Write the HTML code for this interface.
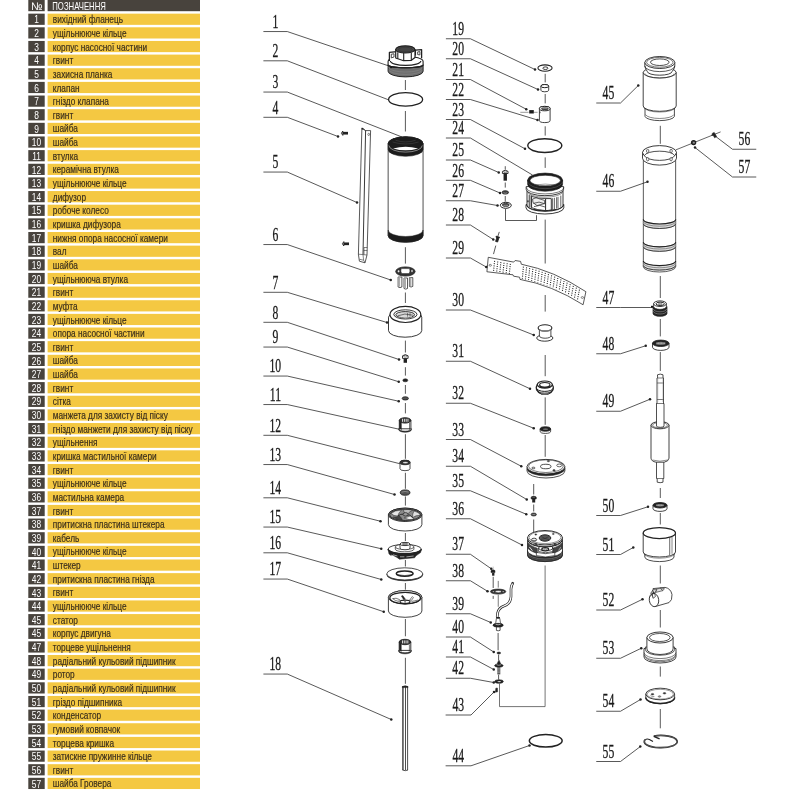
<!DOCTYPE html>
<html lang="uk"><head><meta charset="utf-8"><title>Схема насоса</title>
<style>html,body{margin:0;padding:0;background:#fff}svg{display:block;will-change:transform;opacity:0.9999}</style></head><body>
<svg width="800" height="800" viewBox="0 0 800 800">
<rect width="800" height="800" fill="#fff"/>
<g id="table" font-family="'Liberation Sans', sans-serif" font-size="10">
<rect x="28.3" y="0" width="16.4" height="11.2" fill="#48433d"/>
<rect x="47.6" y="0" width="152.4" height="11.2" fill="#48433d"/>
<text transform="translate(36.9,9.6) scale(1.0,1)" text-anchor="middle" fill="#fff" font-size="10.8">№</text>
<text transform="translate(52.3,9.5) scale(0.775,1)" fill="#fff">ПОЗНАЧЕННЯ</text>
<rect x="28.3" y="13.65" width="16.4" height="11.2" fill="#48433d"/>
<rect x="47.6" y="13.65" width="152.4" height="11.2" fill="#f4c842"/>
<text transform="translate(36.5,23.40) scale(0.8,1)" text-anchor="middle" fill="#fff" font-size="10.5">1</text>
<text transform="translate(52.8,23.30) scale(0.828,1)" fill="#3b2f1c" stroke="#3b2f1c" stroke-width="0.18">вихідний фланець</text>
<rect x="28.3" y="27.30" width="16.4" height="11.2" fill="#48433d"/>
<rect x="47.6" y="27.30" width="152.4" height="11.2" fill="#f4c842"/>
<text transform="translate(36.5,37.05) scale(0.8,1)" text-anchor="middle" fill="#fff" font-size="10.5">2</text>
<text transform="translate(52.8,36.95) scale(0.828,1)" fill="#3b2f1c" stroke="#3b2f1c" stroke-width="0.18">ущільнююче кільце</text>
<rect x="28.3" y="40.94" width="16.4" height="11.2" fill="#48433d"/>
<rect x="47.6" y="40.94" width="152.4" height="11.2" fill="#f4c842"/>
<text transform="translate(36.5,50.69) scale(0.8,1)" text-anchor="middle" fill="#fff" font-size="10.5">3</text>
<text transform="translate(52.8,50.59) scale(0.828,1)" fill="#3b2f1c" stroke="#3b2f1c" stroke-width="0.18">корпус насосної частини</text>
<rect x="28.3" y="54.59" width="16.4" height="11.2" fill="#48433d"/>
<rect x="47.6" y="54.59" width="152.4" height="11.2" fill="#f4c842"/>
<text transform="translate(36.5,64.34) scale(0.8,1)" text-anchor="middle" fill="#fff" font-size="10.5">4</text>
<text transform="translate(52.8,64.24) scale(0.828,1)" fill="#3b2f1c" stroke="#3b2f1c" stroke-width="0.18">гвинт</text>
<rect x="28.3" y="68.23" width="16.4" height="11.2" fill="#48433d"/>
<rect x="47.6" y="68.23" width="152.4" height="11.2" fill="#f4c842"/>
<text transform="translate(36.5,77.98) scale(0.8,1)" text-anchor="middle" fill="#fff" font-size="10.5">5</text>
<text transform="translate(52.8,77.88) scale(0.828,1)" fill="#3b2f1c" stroke="#3b2f1c" stroke-width="0.18">захисна планка</text>
<rect x="28.3" y="81.88" width="16.4" height="11.2" fill="#48433d"/>
<rect x="47.6" y="81.88" width="152.4" height="11.2" fill="#f4c842"/>
<text transform="translate(36.5,91.63) scale(0.8,1)" text-anchor="middle" fill="#fff" font-size="10.5">6</text>
<text transform="translate(52.8,91.53) scale(0.828,1)" fill="#3b2f1c" stroke="#3b2f1c" stroke-width="0.18">клапан</text>
<rect x="28.3" y="95.53" width="16.4" height="11.2" fill="#48433d"/>
<rect x="47.6" y="95.53" width="152.4" height="11.2" fill="#f4c842"/>
<text transform="translate(36.5,105.28) scale(0.8,1)" text-anchor="middle" fill="#fff" font-size="10.5">7</text>
<text transform="translate(52.8,105.18) scale(0.828,1)" fill="#3b2f1c" stroke="#3b2f1c" stroke-width="0.18">гніздо клапана</text>
<rect x="28.3" y="109.17" width="16.4" height="11.2" fill="#48433d"/>
<rect x="47.6" y="109.17" width="152.4" height="11.2" fill="#f4c842"/>
<text transform="translate(36.5,118.92) scale(0.8,1)" text-anchor="middle" fill="#fff" font-size="10.5">8</text>
<text transform="translate(52.8,118.82) scale(0.828,1)" fill="#3b2f1c" stroke="#3b2f1c" stroke-width="0.18">гвинт</text>
<rect x="28.3" y="122.82" width="16.4" height="11.2" fill="#48433d"/>
<rect x="47.6" y="122.82" width="152.4" height="11.2" fill="#f4c842"/>
<text transform="translate(36.5,132.57) scale(0.8,1)" text-anchor="middle" fill="#fff" font-size="10.5">9</text>
<text transform="translate(52.8,132.47) scale(0.828,1)" fill="#3b2f1c" stroke="#3b2f1c" stroke-width="0.18">шайба</text>
<rect x="28.3" y="136.46" width="16.4" height="11.2" fill="#48433d"/>
<rect x="47.6" y="136.46" width="152.4" height="11.2" fill="#f4c842"/>
<text transform="translate(36.5,146.21) scale(0.8,1)" text-anchor="middle" fill="#fff" font-size="10.5">10</text>
<text transform="translate(52.8,146.11) scale(0.828,1)" fill="#3b2f1c" stroke="#3b2f1c" stroke-width="0.18">шайба</text>
<rect x="28.3" y="150.11" width="16.4" height="11.2" fill="#48433d"/>
<rect x="47.6" y="150.11" width="152.4" height="11.2" fill="#f4c842"/>
<text transform="translate(36.5,159.86) scale(0.8,1)" text-anchor="middle" fill="#fff" font-size="10.5">11</text>
<text transform="translate(52.8,159.76) scale(0.828,1)" fill="#3b2f1c" stroke="#3b2f1c" stroke-width="0.18">втулка</text>
<rect x="28.3" y="163.76" width="16.4" height="11.2" fill="#48433d"/>
<rect x="47.6" y="163.76" width="152.4" height="11.2" fill="#f4c842"/>
<text transform="translate(36.5,173.51) scale(0.8,1)" text-anchor="middle" fill="#fff" font-size="10.5">12</text>
<text transform="translate(52.8,173.41) scale(0.828,1)" fill="#3b2f1c" stroke="#3b2f1c" stroke-width="0.18">керамічна втулка</text>
<rect x="28.3" y="177.40" width="16.4" height="11.2" fill="#48433d"/>
<rect x="47.6" y="177.40" width="152.4" height="11.2" fill="#f4c842"/>
<text transform="translate(36.5,187.15) scale(0.8,1)" text-anchor="middle" fill="#fff" font-size="10.5">13</text>
<text transform="translate(52.8,187.05) scale(0.828,1)" fill="#3b2f1c" stroke="#3b2f1c" stroke-width="0.18">ущільнююче кільце</text>
<rect x="28.3" y="191.05" width="16.4" height="11.2" fill="#48433d"/>
<rect x="47.6" y="191.05" width="152.4" height="11.2" fill="#f4c842"/>
<text transform="translate(36.5,200.80) scale(0.8,1)" text-anchor="middle" fill="#fff" font-size="10.5">14</text>
<text transform="translate(52.8,200.70) scale(0.828,1)" fill="#3b2f1c" stroke="#3b2f1c" stroke-width="0.18">дифузор</text>
<rect x="28.3" y="204.69" width="16.4" height="11.2" fill="#48433d"/>
<rect x="47.6" y="204.69" width="152.4" height="11.2" fill="#f4c842"/>
<text transform="translate(36.5,214.44) scale(0.8,1)" text-anchor="middle" fill="#fff" font-size="10.5">15</text>
<text transform="translate(52.8,214.34) scale(0.828,1)" fill="#3b2f1c" stroke="#3b2f1c" stroke-width="0.18">робоче колесо</text>
<rect x="28.3" y="218.34" width="16.4" height="11.2" fill="#48433d"/>
<rect x="47.6" y="218.34" width="152.4" height="11.2" fill="#f4c842"/>
<text transform="translate(36.5,228.09) scale(0.8,1)" text-anchor="middle" fill="#fff" font-size="10.5">16</text>
<text transform="translate(52.8,227.99) scale(0.828,1)" fill="#3b2f1c" stroke="#3b2f1c" stroke-width="0.18">кришка дифузора</text>
<rect x="28.3" y="231.99" width="16.4" height="11.2" fill="#48433d"/>
<rect x="47.6" y="231.99" width="152.4" height="11.2" fill="#f4c842"/>
<text transform="translate(36.5,241.74) scale(0.8,1)" text-anchor="middle" fill="#fff" font-size="10.5">17</text>
<text transform="translate(52.8,241.64) scale(0.828,1)" fill="#3b2f1c" stroke="#3b2f1c" stroke-width="0.18">нижня опора насосної камери</text>
<rect x="28.3" y="245.63" width="16.4" height="11.2" fill="#48433d"/>
<rect x="47.6" y="245.63" width="152.4" height="11.2" fill="#f4c842"/>
<text transform="translate(36.5,255.38) scale(0.8,1)" text-anchor="middle" fill="#fff" font-size="10.5">18</text>
<text transform="translate(52.8,255.28) scale(0.828,1)" fill="#3b2f1c" stroke="#3b2f1c" stroke-width="0.18">вал</text>
<rect x="28.3" y="259.28" width="16.4" height="11.2" fill="#48433d"/>
<rect x="47.6" y="259.28" width="152.4" height="11.2" fill="#f4c842"/>
<text transform="translate(36.5,269.03) scale(0.8,1)" text-anchor="middle" fill="#fff" font-size="10.5">19</text>
<text transform="translate(52.8,268.93) scale(0.828,1)" fill="#3b2f1c" stroke="#3b2f1c" stroke-width="0.18">шайба</text>
<rect x="28.3" y="272.92" width="16.4" height="11.2" fill="#48433d"/>
<rect x="47.6" y="272.92" width="152.4" height="11.2" fill="#f4c842"/>
<text transform="translate(36.5,282.67) scale(0.8,1)" text-anchor="middle" fill="#fff" font-size="10.5">20</text>
<text transform="translate(52.8,282.57) scale(0.828,1)" fill="#3b2f1c" stroke="#3b2f1c" stroke-width="0.18">ущільнююча втулка</text>
<rect x="28.3" y="286.57" width="16.4" height="11.2" fill="#48433d"/>
<rect x="47.6" y="286.57" width="152.4" height="11.2" fill="#f4c842"/>
<text transform="translate(36.5,296.32) scale(0.8,1)" text-anchor="middle" fill="#fff" font-size="10.5">21</text>
<text transform="translate(52.8,296.22) scale(0.828,1)" fill="#3b2f1c" stroke="#3b2f1c" stroke-width="0.18">гвинт</text>
<rect x="28.3" y="300.22" width="16.4" height="11.2" fill="#48433d"/>
<rect x="47.6" y="300.22" width="152.4" height="11.2" fill="#f4c842"/>
<text transform="translate(36.5,309.97) scale(0.8,1)" text-anchor="middle" fill="#fff" font-size="10.5">22</text>
<text transform="translate(52.8,309.87) scale(0.828,1)" fill="#3b2f1c" stroke="#3b2f1c" stroke-width="0.18">муфта</text>
<rect x="28.3" y="313.86" width="16.4" height="11.2" fill="#48433d"/>
<rect x="47.6" y="313.86" width="152.4" height="11.2" fill="#f4c842"/>
<text transform="translate(36.5,323.61) scale(0.8,1)" text-anchor="middle" fill="#fff" font-size="10.5">23</text>
<text transform="translate(52.8,323.51) scale(0.828,1)" fill="#3b2f1c" stroke="#3b2f1c" stroke-width="0.18">ущільнююче кільце</text>
<rect x="28.3" y="327.51" width="16.4" height="11.2" fill="#48433d"/>
<rect x="47.6" y="327.51" width="152.4" height="11.2" fill="#f4c842"/>
<text transform="translate(36.5,337.26) scale(0.8,1)" text-anchor="middle" fill="#fff" font-size="10.5">24</text>
<text transform="translate(52.8,337.16) scale(0.828,1)" fill="#3b2f1c" stroke="#3b2f1c" stroke-width="0.18">опора насосної частини</text>
<rect x="28.3" y="341.15" width="16.4" height="11.2" fill="#48433d"/>
<rect x="47.6" y="341.15" width="152.4" height="11.2" fill="#f4c842"/>
<text transform="translate(36.5,350.90) scale(0.8,1)" text-anchor="middle" fill="#fff" font-size="10.5">25</text>
<text transform="translate(52.8,350.80) scale(0.828,1)" fill="#3b2f1c" stroke="#3b2f1c" stroke-width="0.18">гвинт</text>
<rect x="28.3" y="354.80" width="16.4" height="11.2" fill="#48433d"/>
<rect x="47.6" y="354.80" width="152.4" height="11.2" fill="#f4c842"/>
<text transform="translate(36.5,364.55) scale(0.8,1)" text-anchor="middle" fill="#fff" font-size="10.5">26</text>
<text transform="translate(52.8,364.45) scale(0.828,1)" fill="#3b2f1c" stroke="#3b2f1c" stroke-width="0.18">шайба</text>
<rect x="28.3" y="368.45" width="16.4" height="11.2" fill="#48433d"/>
<rect x="47.6" y="368.45" width="152.4" height="11.2" fill="#f4c842"/>
<text transform="translate(36.5,378.20) scale(0.8,1)" text-anchor="middle" fill="#fff" font-size="10.5">27</text>
<text transform="translate(52.8,378.10) scale(0.828,1)" fill="#3b2f1c" stroke="#3b2f1c" stroke-width="0.18">шайба</text>
<rect x="28.3" y="382.09" width="16.4" height="11.2" fill="#48433d"/>
<rect x="47.6" y="382.09" width="152.4" height="11.2" fill="#f4c842"/>
<text transform="translate(36.5,391.84) scale(0.8,1)" text-anchor="middle" fill="#fff" font-size="10.5">28</text>
<text transform="translate(52.8,391.74) scale(0.828,1)" fill="#3b2f1c" stroke="#3b2f1c" stroke-width="0.18">гвинт</text>
<rect x="28.3" y="395.74" width="16.4" height="11.2" fill="#48433d"/>
<rect x="47.6" y="395.74" width="152.4" height="11.2" fill="#f4c842"/>
<text transform="translate(36.5,405.49) scale(0.8,1)" text-anchor="middle" fill="#fff" font-size="10.5">29</text>
<text transform="translate(52.8,405.39) scale(0.828,1)" fill="#3b2f1c" stroke="#3b2f1c" stroke-width="0.18">сітка</text>
<rect x="28.3" y="409.38" width="16.4" height="11.2" fill="#48433d"/>
<rect x="47.6" y="409.38" width="152.4" height="11.2" fill="#f4c842"/>
<text transform="translate(36.5,419.13) scale(0.8,1)" text-anchor="middle" fill="#fff" font-size="10.5">30</text>
<text transform="translate(52.8,419.03) scale(0.828,1)" fill="#3b2f1c" stroke="#3b2f1c" stroke-width="0.18">манжета для захисту від піску</text>
<rect x="28.3" y="423.03" width="16.4" height="11.2" fill="#48433d"/>
<rect x="47.6" y="423.03" width="152.4" height="11.2" fill="#f4c842"/>
<text transform="translate(36.5,432.78) scale(0.8,1)" text-anchor="middle" fill="#fff" font-size="10.5">31</text>
<text transform="translate(52.8,432.68) scale(0.828,1)" fill="#3b2f1c" stroke="#3b2f1c" stroke-width="0.18">гніздо манжети для захисту від піску</text>
<rect x="28.3" y="436.68" width="16.4" height="11.2" fill="#48433d"/>
<rect x="47.6" y="436.68" width="152.4" height="11.2" fill="#f4c842"/>
<text transform="translate(36.5,446.43) scale(0.8,1)" text-anchor="middle" fill="#fff" font-size="10.5">32</text>
<text transform="translate(52.8,446.33) scale(0.828,1)" fill="#3b2f1c" stroke="#3b2f1c" stroke-width="0.18">ущільнення</text>
<rect x="28.3" y="450.32" width="16.4" height="11.2" fill="#48433d"/>
<rect x="47.6" y="450.32" width="152.4" height="11.2" fill="#f4c842"/>
<text transform="translate(36.5,460.07) scale(0.8,1)" text-anchor="middle" fill="#fff" font-size="10.5">33</text>
<text transform="translate(52.8,459.97) scale(0.828,1)" fill="#3b2f1c" stroke="#3b2f1c" stroke-width="0.18">кришка мастильної камери</text>
<rect x="28.3" y="463.97" width="16.4" height="11.2" fill="#48433d"/>
<rect x="47.6" y="463.97" width="152.4" height="11.2" fill="#f4c842"/>
<text transform="translate(36.5,473.72) scale(0.8,1)" text-anchor="middle" fill="#fff" font-size="10.5">34</text>
<text transform="translate(52.8,473.62) scale(0.828,1)" fill="#3b2f1c" stroke="#3b2f1c" stroke-width="0.18">гвинт</text>
<rect x="28.3" y="477.61" width="16.4" height="11.2" fill="#48433d"/>
<rect x="47.6" y="477.61" width="152.4" height="11.2" fill="#f4c842"/>
<text transform="translate(36.5,487.36) scale(0.8,1)" text-anchor="middle" fill="#fff" font-size="10.5">35</text>
<text transform="translate(52.8,487.26) scale(0.828,1)" fill="#3b2f1c" stroke="#3b2f1c" stroke-width="0.18">ущільнююче кільце</text>
<rect x="28.3" y="491.26" width="16.4" height="11.2" fill="#48433d"/>
<rect x="47.6" y="491.26" width="152.4" height="11.2" fill="#f4c842"/>
<text transform="translate(36.5,501.01) scale(0.8,1)" text-anchor="middle" fill="#fff" font-size="10.5">36</text>
<text transform="translate(52.8,500.91) scale(0.828,1)" fill="#3b2f1c" stroke="#3b2f1c" stroke-width="0.18">мастильна камера</text>
<rect x="28.3" y="504.91" width="16.4" height="11.2" fill="#48433d"/>
<rect x="47.6" y="504.91" width="152.4" height="11.2" fill="#f4c842"/>
<text transform="translate(36.5,514.66) scale(0.8,1)" text-anchor="middle" fill="#fff" font-size="10.5">37</text>
<text transform="translate(52.8,514.56) scale(0.828,1)" fill="#3b2f1c" stroke="#3b2f1c" stroke-width="0.18">гвинт</text>
<rect x="28.3" y="518.55" width="16.4" height="11.2" fill="#48433d"/>
<rect x="47.6" y="518.55" width="152.4" height="11.2" fill="#f4c842"/>
<text transform="translate(36.5,528.30) scale(0.8,1)" text-anchor="middle" fill="#fff" font-size="10.5">38</text>
<text transform="translate(52.8,528.20) scale(0.828,1)" fill="#3b2f1c" stroke="#3b2f1c" stroke-width="0.18">притискна пластина штекера</text>
<rect x="28.3" y="532.20" width="16.4" height="11.2" fill="#48433d"/>
<rect x="47.6" y="532.20" width="152.4" height="11.2" fill="#f4c842"/>
<text transform="translate(36.5,541.95) scale(0.8,1)" text-anchor="middle" fill="#fff" font-size="10.5">39</text>
<text transform="translate(52.8,541.85) scale(0.828,1)" fill="#3b2f1c" stroke="#3b2f1c" stroke-width="0.18">кабель</text>
<rect x="28.3" y="545.84" width="16.4" height="11.2" fill="#48433d"/>
<rect x="47.6" y="545.84" width="152.4" height="11.2" fill="#f4c842"/>
<text transform="translate(36.5,555.59) scale(0.8,1)" text-anchor="middle" fill="#fff" font-size="10.5">40</text>
<text transform="translate(52.8,555.49) scale(0.828,1)" fill="#3b2f1c" stroke="#3b2f1c" stroke-width="0.18">ущільнююче кільце</text>
<rect x="28.3" y="559.49" width="16.4" height="11.2" fill="#48433d"/>
<rect x="47.6" y="559.49" width="152.4" height="11.2" fill="#f4c842"/>
<text transform="translate(36.5,569.24) scale(0.8,1)" text-anchor="middle" fill="#fff" font-size="10.5">41</text>
<text transform="translate(52.8,569.14) scale(0.828,1)" fill="#3b2f1c" stroke="#3b2f1c" stroke-width="0.18">штекер</text>
<rect x="28.3" y="573.14" width="16.4" height="11.2" fill="#48433d"/>
<rect x="47.6" y="573.14" width="152.4" height="11.2" fill="#f4c842"/>
<text transform="translate(36.5,582.89) scale(0.8,1)" text-anchor="middle" fill="#fff" font-size="10.5">42</text>
<text transform="translate(52.8,582.79) scale(0.828,1)" fill="#3b2f1c" stroke="#3b2f1c" stroke-width="0.18">притискна пластина гнізда</text>
<rect x="28.3" y="586.78" width="16.4" height="11.2" fill="#48433d"/>
<rect x="47.6" y="586.78" width="152.4" height="11.2" fill="#f4c842"/>
<text transform="translate(36.5,596.53) scale(0.8,1)" text-anchor="middle" fill="#fff" font-size="10.5">43</text>
<text transform="translate(52.8,596.43) scale(0.828,1)" fill="#3b2f1c" stroke="#3b2f1c" stroke-width="0.18">гвинт</text>
<rect x="28.3" y="600.43" width="16.4" height="11.2" fill="#48433d"/>
<rect x="47.6" y="600.43" width="152.4" height="11.2" fill="#f4c842"/>
<text transform="translate(36.5,610.18) scale(0.8,1)" text-anchor="middle" fill="#fff" font-size="10.5">44</text>
<text transform="translate(52.8,610.08) scale(0.828,1)" fill="#3b2f1c" stroke="#3b2f1c" stroke-width="0.18">ущільнююче кільце</text>
<rect x="28.3" y="614.07" width="16.4" height="11.2" fill="#48433d"/>
<rect x="47.6" y="614.07" width="152.4" height="11.2" fill="#f4c842"/>
<text transform="translate(36.5,623.82) scale(0.8,1)" text-anchor="middle" fill="#fff" font-size="10.5">45</text>
<text transform="translate(52.8,623.72) scale(0.828,1)" fill="#3b2f1c" stroke="#3b2f1c" stroke-width="0.18">статор</text>
<rect x="28.3" y="627.72" width="16.4" height="11.2" fill="#48433d"/>
<rect x="47.6" y="627.72" width="152.4" height="11.2" fill="#f4c842"/>
<text transform="translate(36.5,637.47) scale(0.8,1)" text-anchor="middle" fill="#fff" font-size="10.5">45</text>
<text transform="translate(52.8,637.37) scale(0.828,1)" fill="#3b2f1c" stroke="#3b2f1c" stroke-width="0.18">корпус двигуна</text>
<rect x="28.3" y="641.37" width="16.4" height="11.2" fill="#48433d"/>
<rect x="47.6" y="641.37" width="152.4" height="11.2" fill="#f4c842"/>
<text transform="translate(36.5,651.12) scale(0.8,1)" text-anchor="middle" fill="#fff" font-size="10.5">47</text>
<text transform="translate(52.8,651.02) scale(0.828,1)" fill="#3b2f1c" stroke="#3b2f1c" stroke-width="0.18">торцеве ущільнення</text>
<rect x="28.3" y="655.01" width="16.4" height="11.2" fill="#48433d"/>
<rect x="47.6" y="655.01" width="152.4" height="11.2" fill="#f4c842"/>
<text transform="translate(36.5,664.76) scale(0.8,1)" text-anchor="middle" fill="#fff" font-size="10.5">48</text>
<text transform="translate(52.8,664.66) scale(0.828,1)" fill="#3b2f1c" stroke="#3b2f1c" stroke-width="0.18">радіальний кульовий підшипник</text>
<rect x="28.3" y="668.66" width="16.4" height="11.2" fill="#48433d"/>
<rect x="47.6" y="668.66" width="152.4" height="11.2" fill="#f4c842"/>
<text transform="translate(36.5,678.41) scale(0.8,1)" text-anchor="middle" fill="#fff" font-size="10.5">49</text>
<text transform="translate(52.8,678.31) scale(0.828,1)" fill="#3b2f1c" stroke="#3b2f1c" stroke-width="0.18">ротор</text>
<rect x="28.3" y="682.30" width="16.4" height="11.2" fill="#48433d"/>
<rect x="47.6" y="682.30" width="152.4" height="11.2" fill="#f4c842"/>
<text transform="translate(36.5,692.05) scale(0.8,1)" text-anchor="middle" fill="#fff" font-size="10.5">50</text>
<text transform="translate(52.8,691.95) scale(0.828,1)" fill="#3b2f1c" stroke="#3b2f1c" stroke-width="0.18">радіальний кульовий підшипник</text>
<rect x="28.3" y="695.95" width="16.4" height="11.2" fill="#48433d"/>
<rect x="47.6" y="695.95" width="152.4" height="11.2" fill="#f4c842"/>
<text transform="translate(36.5,705.70) scale(0.8,1)" text-anchor="middle" fill="#fff" font-size="10.5">51</text>
<text transform="translate(52.8,705.60) scale(0.828,1)" fill="#3b2f1c" stroke="#3b2f1c" stroke-width="0.18">гріздо підшипника</text>
<rect x="28.3" y="709.60" width="16.4" height="11.2" fill="#48433d"/>
<rect x="47.6" y="709.60" width="152.4" height="11.2" fill="#f4c842"/>
<text transform="translate(36.5,719.35) scale(0.8,1)" text-anchor="middle" fill="#fff" font-size="10.5">52</text>
<text transform="translate(52.8,719.25) scale(0.828,1)" fill="#3b2f1c" stroke="#3b2f1c" stroke-width="0.18">конденсатор</text>
<rect x="28.3" y="723.24" width="16.4" height="11.2" fill="#48433d"/>
<rect x="47.6" y="723.24" width="152.4" height="11.2" fill="#f4c842"/>
<text transform="translate(36.5,732.99) scale(0.8,1)" text-anchor="middle" fill="#fff" font-size="10.5">53</text>
<text transform="translate(52.8,732.89) scale(0.828,1)" fill="#3b2f1c" stroke="#3b2f1c" stroke-width="0.18">гумовий ковпачок</text>
<rect x="28.3" y="736.89" width="16.4" height="11.2" fill="#48433d"/>
<rect x="47.6" y="736.89" width="152.4" height="11.2" fill="#f4c842"/>
<text transform="translate(36.5,746.64) scale(0.8,1)" text-anchor="middle" fill="#fff" font-size="10.5">54</text>
<text transform="translate(52.8,746.54) scale(0.828,1)" fill="#3b2f1c" stroke="#3b2f1c" stroke-width="0.18">торцева кришка</text>
<rect x="28.3" y="750.53" width="16.4" height="11.2" fill="#48433d"/>
<rect x="47.6" y="750.53" width="152.4" height="11.2" fill="#f4c842"/>
<text transform="translate(36.5,760.28) scale(0.8,1)" text-anchor="middle" fill="#fff" font-size="10.5">55</text>
<text transform="translate(52.8,760.18) scale(0.828,1)" fill="#3b2f1c" stroke="#3b2f1c" stroke-width="0.18">затискне пружинне кільце</text>
<rect x="28.3" y="764.18" width="16.4" height="11.2" fill="#48433d"/>
<rect x="47.6" y="764.18" width="152.4" height="11.2" fill="#f4c842"/>
<text transform="translate(36.5,773.93) scale(0.8,1)" text-anchor="middle" fill="#fff" font-size="10.5">56</text>
<text transform="translate(52.8,773.83) scale(0.828,1)" fill="#3b2f1c" stroke="#3b2f1c" stroke-width="0.18">гвинт</text>
<rect x="28.3" y="777.83" width="16.4" height="11.2" fill="#48433d"/>
<rect x="47.6" y="777.83" width="152.4" height="11.2" fill="#f4c842"/>
<text transform="translate(36.5,787.58) scale(0.8,1)" text-anchor="middle" fill="#fff" font-size="10.5">57</text>
<text transform="translate(52.8,787.48) scale(0.828,1)" fill="#3b2f1c" stroke="#3b2f1c" stroke-width="0.18">шайба Гровера</text>
</g>
<g id="parts" stroke-linecap="butt" stroke-linejoin="round">
<path d="M388.1 64.7V71.3A17.5 5.6 0 0 0 423.1 71.3V64.7A17.5 3.0 0 0 1 388.1 64.7Z" fill="#6e6e6e" stroke="#222" stroke-width="1.0" />
<path d="M388.4 67.4A17.3 5.2 0 0 0 422.8 67.4M388.4 69.6A17.3 5.4 0 0 0 422.8 69.6" fill="none" stroke="#909090" stroke-width="0.45" />
<path d="M388.1 64.7V61.4A17.5 5.2 0 0 1 423.1 61.4V64.7A17.5 3.0 0 0 1 388.1 64.7Z" fill="#fff" stroke="#222" stroke-width="1.1" />
<path d="M388.1 64.7A17.5 3.0 0 0 0 423.1 64.7" fill="none" stroke="#222" stroke-width="1.2" />
<path d="M390.4 61.0A15.2 4.4 0 0 0 420.8 61.0" fill="none" stroke="#222" stroke-width="1.2" />
<path d="M389.4 61.0V52.4L396.9 51.6V58.6" fill="#fff" stroke="#222" stroke-width="1.3" />
<path d="M391.3 57.9V54.2l2.7-0.4v3.2z" fill="none" stroke="#222" stroke-width="0.8" />
<path d="M415.4 55.6V50.2L421.6 49.6V58.2" fill="#fff" stroke="#222" stroke-width="1.3" />
<path d="M417.7 54.6V51.9l2.2-0.3v3.3z" fill="none" stroke="#222" stroke-width="0.8" />
<path d="M395.7 49.6V58.0L403.6 60.7L411.4 60.3L415.0 57.6V49.6Z" fill="#fff" stroke="#222" stroke-width="1.2" />
<path d="M397.8 52.2V58.7M403.7 52.9V60.6M411.3 52.7V60.2" fill="none" stroke="#222" stroke-width="1.1" />
<ellipse cx="405.30" cy="49.40" rx="9.60" ry="3.60" fill="#4c4c4c" stroke="#222" stroke-width="1.2" />
<ellipse cx="405.30" cy="49.60" rx="7.20" ry="2.40" fill="#444" stroke="#2a2a2a" stroke-width="0.5" />
<rect x="390.20" y="66.60" width="1.70" height="1.50" fill="#111" stroke="none" stroke-width="0"/>
<ellipse cx="405.60" cy="99.40" rx="17.00" ry="6.70" fill="none" stroke="#222" stroke-width="1.3" />
<path d="M388.15 143.75V235.60A17.45 6.60 0 0 0 423.05 235.60V143.75A17.45 6.90 0 0 0 388.15 143.75Z" fill="#fff" stroke="#222" stroke-width="0.8" />
<path d="M388.15 230.00A17.45 6.50 0 0 0 423.05 230.00V235.80A17.45 6.50 0 0 1 388.15 235.80Z" fill="#1c1c1c" stroke="#222" stroke-width="0.5" />
<path d="M388.15000000000003 143.75V149.4A17.45 6.9 0 0 0 423.05 149.4V143.75A17.45 6.9 0 0 0 388.15000000000003 143.75Z" fill="#1c1c1c" stroke="#222" stroke-width="0.6" />
<ellipse cx="405.60" cy="143.75" rx="17.45" ry="6.90" fill="#1c1c1c" stroke="#222" stroke-width="0.6" />
<path d="M393.1 148.4Q405.6 144.9 418.1 148.4Q405.6 152.2 393.1 148.4Z" fill="#fff" stroke="none" stroke-width="0" />
<path d="M388.95000000000005 145.5A16.65 6.6 0 0 0 422.25 145.5" fill="none" stroke="#e8e8e8" stroke-width="0.5" />
<path d="M392.6 142.0Q405.6 146.0 418.6 142.0M395.6 140.3Q405.6 143.6 415.6 140.3" fill="none" stroke="#555" stroke-width="0.4" />
<path d="M342.80 131.00Q340.00 133.20 342.80 135.40Z" fill="#fff" stroke="#222" stroke-width="0.9" />
<rect x="343.00" y="131.85" width="5.00" height="2.70" fill="#222" stroke="none" stroke-width="0"/>
<path d="M343.80 241.60Q341.00 243.80 343.80 246.00Z" fill="#fff" stroke="#222" stroke-width="0.9" />
<rect x="344.00" y="242.45" width="5.00" height="2.70" fill="#222" stroke="none" stroke-width="0"/>
<path d="M361.9 128.1L358.4 254.2L359.4 261.2L365 262.8L367 255L370.6 130.6L365.6 130.6Z" fill="#fff" stroke="#222" stroke-width="0.75" />
<path d="M365.6 130.6L363 254.4" fill="none" stroke="#222" stroke-width="0.9" />
<path d="M361.9 128.1L365.6 130.6" fill="none" stroke="#222" stroke-width="0.6" />
<path d="M358.4 254.2L363 254.6L367 255M363 254.6L363.6 260.2L359.6 259.3M363.6 260.2L365 262.6" fill="none" stroke="#222" stroke-width="0.55" />
<path d="M363.9 247.5H367.3M363.7 250.5H367.2M364 247.5V254.6" fill="none" stroke="#222" stroke-width="0.55" />
<ellipse cx="368.70" cy="134.40" rx="0.90" ry="1.10" fill="none" stroke="#222" stroke-width="0.55" />
<circle cx="362.5" cy="128.8" r="0.95" fill="#222"/>
<path d="M398.1 277.0V287.0Q400.0 288.2 401.9 287.0V277.0Z" fill="#fff" stroke="#222" stroke-width="0.75" />
<rect x="398.40" y="277.00" width="1.70" height="9.60" fill="#aaa" stroke="none" stroke-width="0"/>
<path d="M404.0 278.0V288.5Q405.75 289.7 407.5 288.5V278.0Z" fill="#fff" stroke="#222" stroke-width="0.75" />
<rect x="404.30" y="278.00" width="1.70" height="10.10" fill="#aaa" stroke="none" stroke-width="0"/>
<path d="M409.4 277.6V286.4Q411.1 287.59999999999997 412.8 286.4V277.6Z" fill="#fff" stroke="#222" stroke-width="0.75" />
<rect x="409.70" y="277.60" width="1.70" height="8.40" fill="#aaa" stroke="none" stroke-width="0"/>
<ellipse cx="405.40" cy="271.50" rx="9.70" ry="4.60" fill="#333" stroke="#222" stroke-width="0.8" />
<path d="M401.2 268.6H409.6Q410.6 271.2 409.2 273.6H401.6Q400.2 271.2 401.2 268.6Z" fill="#fff" stroke="#222" stroke-width="0.5" />
<ellipse cx="398.60" cy="271.30" rx="0.90" ry="1.30" fill="#fff" stroke="#222" stroke-width="0.3" />
<ellipse cx="412.00" cy="271.00" rx="0.90" ry="1.30" fill="#fff" stroke="#222" stroke-width="0.3" />
<path d="M388.5 317.2V330.6A16.6 6.6 0 0 0 421.75 330.6V317.2L420.6 314.4H390.1Z" fill="#fff" stroke="#222" stroke-width="0.9" />
<ellipse cx="405.40" cy="314.40" rx="15.40" ry="8.10" fill="#fff" stroke="#222" stroke-width="1.15" />
<ellipse cx="405.40" cy="314.40" rx="11.60" ry="4.60" fill="#fff" stroke="#222" stroke-width="0.9" />
<ellipse cx="405.20" cy="314.70" rx="9.40" ry="3.10" fill="#d8d8d8" stroke="#222" stroke-width="0.9" />
<path d="M397.9 315.8Q404.4 312.6 412.9 315.2" fill="none" stroke="#222" stroke-width="0.6" />
<path d="M407.59999999999997 313.0V316.8M410.0 313.2V316.6" fill="none" stroke="#222" stroke-width="0.55" />
<path d="M398.9 316.6Q405.4 318.6 411.9 316.6" fill="none" stroke="#fff" stroke-width="0.5" />
<path d="M402.50 358.40V355.80Q405.30 353.40 408.10 355.80V358.40Z" fill="#fff" stroke="#222" stroke-width="0.9" />
<ellipse cx="405.30" cy="356.20" rx="1.90" ry="0.80" fill="none" stroke="#222" stroke-width="0.5" />
<rect x="403.60" y="358.40" width="3.40" height="4.40" fill="#222" stroke="none" stroke-width="0"/>
<ellipse cx="405.30" cy="380.30" rx="2.50" ry="1.50" fill="#222" stroke="#222" stroke-width="0.6" />
<ellipse cx="405.30" cy="398.40" rx="3.10" ry="1.60" fill="#555" stroke="#222" stroke-width="0.9" />
<path d="M399.3 420.4V428.79999999999995H410.90000000000003V420.4Z" fill="#fff" stroke="#222" stroke-width="0.9" />
<rect x="399.30" y="420.40" width="2.00" height="8.60" fill="#222" stroke="none" stroke-width="0"/>
<path d="M398.7 428.59999999999997A6.3999999999999995 2.6 0 0 0 411.50000000000006 428.59999999999997V429.59999999999997A6.3999999999999995 2.6 0 0 1 398.7 429.59999999999997Z" fill="#222" stroke="#222" stroke-width="0.6" />
<path d="M401.3 423.0V430.0M409.50000000000006 422.79999999999995V429.79999999999995" fill="none" stroke="#222" stroke-width="0.6" />
<ellipse cx="405.10" cy="420.40" rx="5.80" ry="2.70" fill="#333" stroke="#222" stroke-width="0.9" />
<rect x="402.10" y="418.80" width="0.90" height="3.00" fill="#eee" stroke="none" stroke-width="0"/>
<rect x="403.90" y="418.80" width="0.90" height="3.00" fill="#eee" stroke="none" stroke-width="0"/>
<rect x="405.70" y="418.80" width="0.90" height="3.00" fill="#eee" stroke="none" stroke-width="0"/>
<rect x="407.50" y="418.80" width="0.90" height="3.00" fill="#eee" stroke="none" stroke-width="0"/>
<path d="M400.00 462.50V468.70A5.00 2.00 0 0 0 410.00 468.70V462.50A5.00 2.20 0 0 0 400.00 462.50Z" fill="#fff" stroke="#222" stroke-width="0.8" />
<ellipse cx="405.00" cy="462.50" rx="5.00" ry="2.20" fill="#333" stroke="#222" stroke-width="0.9" />
<ellipse cx="405.40" cy="462.60" rx="2.60" ry="0.90" fill="#eee" stroke="#222" stroke-width="0.3" />
<ellipse cx="405.10" cy="492.60" rx="4.85" ry="2.65" fill="#555" stroke="#222" stroke-width="0.9" />
<path d="M401.6 492.2Q405 490.6 408.6 492.2" fill="none" stroke="#bbb" stroke-width="0.5" />
<path d="M388.40 514.80V524.60A16.75 6.40 0 0 0 421.90 524.60V514.80A16.75 6.70 0 0 0 388.40 514.80Z" fill="#fff" stroke="#222" stroke-width="0.85" />
<ellipse cx="405.15" cy="514.80" rx="16.75" ry="6.70" fill="#8a8a8a" stroke="#222" stroke-width="0.9" />
<path d="M391.0 513.6Q395 510.0 401.4 510.2Q398.4 512.8 397.8 516.0Q393.6 516.2 391.0 513.6Z" fill="#e6e6e6" stroke="#222" stroke-width="0.5" />
<path d="M403.0 509.8Q408 508.8 412.6 510.2Q408.6 512.0 407.0 515.0Q404 513 403.0 509.8Z" fill="#bbb" stroke="#222" stroke-width="0.5" />
<path d="M414 511.0Q419.2 512.2 420.6 515.4Q416 515 412.6 517.6Q412.2 514 414 511.0Z" fill="#e0e0e0" stroke="#222" stroke-width="0.5" />
<path d="M393.0 517.0Q397 520.0 402.4 520.2Q401.8 517.8 399.6 516.0Q396 517.6 393.0 517.0Z" fill="#444" stroke="#222" stroke-width="0.4" />
<path d="M404.2 517.8Q409 520.8 414.4 519.2Q412.0 517.8 411.0 515.6Q407 517.6 404.2 517.8Z" fill="#f0f0f0" stroke="#222" stroke-width="0.5" />
<path d="M397.8 516.0Q401 513.6 403.4 514.2M407.0 515.0Q409.4 513.8 412.6 517.6" fill="none" stroke="#222" stroke-width="0.9" />
<ellipse cx="405.55" cy="514.30" rx="2.50" ry="1.70" fill="#999" stroke="#222" stroke-width="0.7" />
<ellipse cx="405.15" cy="514.80" rx="15.50" ry="5.70" fill="none" stroke="#333" stroke-width="1.0" />
<path d="M388.3 550.4L389.0 554.0L391.2 555.6L391.6 554.6L397.0 557.4L399.4 559.2L414.6 557.8L416.0 555.8L420.6 552.6L421.2 550.0Z" fill="#222" stroke="#222" stroke-width="0.5" />
<path d="M393.0 554.8L397.4 556.0M400.0 556.8H404.4M406.4 556.9L413.6 556.0" fill="none" stroke="#eee" stroke-width="0.6" />
<ellipse cx="404.70" cy="549.10" rx="16.60" ry="4.70" fill="#fff" stroke="#222" stroke-width="0.85" />
<path d="M388.09999999999997 549.1A16.6 4.7 0 0 0 421.3 549.1" fill="none" stroke="#222" stroke-width="1.4" />
<path d="M395.3 546.9V549.2A9.3 2.6 0 0 0 413.9 549.2V546.9" fill="#fff" stroke="#222" stroke-width="0.7" />
<ellipse cx="404.60" cy="546.90" rx="9.30" ry="2.60" fill="#fff" stroke="#222" stroke-width="0.7" />
<path d="M400.0 544.0V548.2A5 1.6 0 0 0 410.0 548.2V544.0" fill="#fff" stroke="#222" stroke-width="0.8" />
<ellipse cx="405.00" cy="544.00" rx="5.00" ry="1.60" fill="#fff" stroke="#222" stroke-width="0.9" />
<ellipse cx="405.00" cy="544.00" rx="2.60" ry="0.70" fill="#fff" stroke="#222" stroke-width="0.6" />
<ellipse cx="404.80" cy="574.70" rx="18.00" ry="6.10" fill="#222" stroke="#222" stroke-width="0.7" />
<ellipse cx="404.80" cy="573.90" rx="18.00" ry="6.10" fill="#fff" stroke="#222" stroke-width="0.8" />
<ellipse cx="404.70" cy="573.60" rx="8.40" ry="2.70" fill="#fff" stroke="#222" stroke-width="1.5" />
<path d="M398.0 574.6Q404.7 576.6 411.4 574.6" fill="none" stroke="#222" stroke-width="0.5" />
<path d="M388.40 597.30V611.00A16.75 6.30 0 0 0 421.90 611.00V597.30A16.75 6.70 0 0 0 388.40 597.30Z" fill="#fff" stroke="#222" stroke-width="0.85" />
<ellipse cx="405.15" cy="597.30" rx="16.75" ry="6.70" fill="#fff" stroke="#222" stroke-width="0.9" />
<ellipse cx="405.15" cy="598.00" rx="15.30" ry="5.70" fill="#fff" stroke="#222" stroke-width="1.3" />
<path d="M392.6 598.6Q396 597.4 399.6 599.6L398.6 601.4Q395 600.8 392.6 598.6Z" fill="#fff" stroke="#222" stroke-width="0.6" />
<path d="M401.4 596.0L403.6 599.6L405.4 599.2L402.8 595.6Z" fill="#222" stroke="#222" stroke-width="0.5" />
<path d="M412.4 596.6L409.8 599.8L411.4 600.4L413.4 597.6Z" fill="#fff" stroke="#222" stroke-width="0.6" />
<path d="M411.4 601.4Q415 601 418 600" fill="none" stroke="#222" stroke-width="0.6" />
<ellipse cx="405.00" cy="601.80" rx="5.00" ry="1.70" fill="#fff" stroke="#222" stroke-width="1.2" />
<path d="M400.4 603.2Q405 605.2 409.6 603.2" fill="none" stroke="#222" stroke-width="0.6" />
<rect x="404.40" y="600.80" width="1.30" height="2.00" fill="#666" stroke="none" stroke-width="0"/>
<path d="M399.2 642.0V650.4H410.8V642.0Z" fill="#fff" stroke="#222" stroke-width="0.9" />
<rect x="399.20" y="642.00" width="2.00" height="8.60" fill="#222" stroke="none" stroke-width="0"/>
<path d="M398.59999999999997 650.2A6.3999999999999995 2.6 0 0 0 411.40000000000003 650.2V651.2A6.3999999999999995 2.6 0 0 1 398.59999999999997 651.2Z" fill="#222" stroke="#222" stroke-width="0.6" />
<path d="M401.2 644.6V651.6M409.40000000000003 644.4V651.4" fill="none" stroke="#222" stroke-width="0.6" />
<ellipse cx="405.00" cy="642.00" rx="5.80" ry="2.70" fill="#333" stroke="#222" stroke-width="0.9" />
<rect x="402.00" y="640.40" width="0.90" height="3.00" fill="#eee" stroke="none" stroke-width="0"/>
<rect x="403.80" y="640.40" width="0.90" height="3.00" fill="#eee" stroke="none" stroke-width="0"/>
<rect x="405.60" y="640.40" width="0.90" height="3.00" fill="#eee" stroke="none" stroke-width="0"/>
<rect x="407.40" y="640.40" width="0.90" height="3.00" fill="#eee" stroke="none" stroke-width="0"/>
<rect x="402.20" y="685.70" width="5.90" height="84.60" fill="#fff" stroke="none" stroke-width="0"/>
<path d="M402.7 686V770M405.5 687V770M407.6 686V770" fill="none" stroke="#222" stroke-width="0.8" />
<path d="M403.3 686.6V770" fill="none" stroke="#222" stroke-width="0.6" />
<path d="M402.3 686.6Q405.2 684.8 408 686.6V687.6H402.3Z" fill="#222" stroke="#222" stroke-width="0.5" />
<path d="M402.4 770Q405.2 771.4 408 770" fill="none" stroke="#222" stroke-width="0.8" />
<path d="M405.4 80V90M405.4 111V131.5M405.4 247.2V263.6M405.4 292.5V303M405.4 340.6V352.5M405.4 367.2V375.6M405.4 385V393.8M405.4 403V413.4M405.4 434.2V458.8M405.4 472.8V488.8M405.4 496.4V505.6M405.4 533V541M405.4 560V566.5M405.4 583V589.7M405.4 619V636.3M405.4 657.8V683.8" fill="none" stroke="#222" stroke-width="0.75"/>
<ellipse cx="545.00" cy="68.10" rx="7.10" ry="3.20" fill="#fff" stroke="#222" stroke-width="1.1" />
<ellipse cx="545.40" cy="68.20" rx="2.50" ry="1.30" fill="#fff" stroke="#222" stroke-width="0.9" />
<path d="M540.90 86.10V90.20A3.90 1.60 0 0 0 548.70 90.20V86.10A3.90 1.60 0 0 0 540.90 86.10Z" fill="#fff" stroke="#222" stroke-width="0.85" />
<ellipse cx="544.80" cy="86.10" rx="3.90" ry="1.60" fill="#fff" stroke="#222" stroke-width="1.0" />
<path d="M520.3 112.3H528.6M534 112.3H537.6" fill="none" stroke="#555" stroke-width="0.6" />
<rect x="529.20" y="110.10" width="4.60" height="3.40" fill="#1a1a1a" stroke="none" stroke-width="0"/>
<path d="M539.40 108.60V120.40A5.35 2.20 0 0 0 550.10 120.40V108.60A5.35 2.20 0 0 0 539.40 108.60Z" fill="#fff" stroke="#222" stroke-width="0.85" />
<ellipse cx="544.75" cy="108.60" rx="5.35" ry="2.20" fill="#fff" stroke="#222" stroke-width="0.95" />
<ellipse cx="544.90" cy="108.70" rx="3.60" ry="1.20" fill="#444" stroke="#222" stroke-width="0.4" />
<path d="M542.4 108.2H547.4" fill="none" stroke="#ddd" stroke-width="0.5" />
<rect x="539.60" y="111.60" width="0.80" height="1.60" fill="#222" stroke="none" stroke-width="0"/>
<ellipse cx="544.80" cy="145.60" rx="17.00" ry="6.90" fill="none" stroke="#222" stroke-width="1.4" />
<path d="M526.0 204.6V207.8A18.9 6.2 0 0 0 563.8 207.8V204.6Z" fill="#fff" stroke="#222" stroke-width="0.9" />
<path d="M527.0 190.0V205.4A18.0 5.9 0 0 0 563.0 205.4V190.0Z" fill="#fff" stroke="#222" stroke-width="0.9" />
<path d="M526.50 204.80A18.60 6.00 0 0 0 563.70 204.80" fill="none" stroke="#222" stroke-width="0.9" />
<path d="M531.6 196.4Q538 198.6 545.6 198.6V210.6Q537 210.2 531.6 207.6Z" fill="#fff" stroke="#222" stroke-width="0.8" />
<path d="M532.6 199.0L536.0 197.8L544.6 200.4V203.6L537.0 205.6L533.0 202.6Z" fill="#eee" stroke="#222" stroke-width="0.7" />
<path d="M533.4 203.4Q539 200.6 544.8 203.8M534.0 206.6Q540 204.0 545.0 207.0" fill="none" stroke="#222" stroke-width="0.7" />
<rect x="529.20" y="195.20" width="2.00" height="12.00" fill="#bbb" stroke="none" stroke-width="0"/>
<path d="M529.2 194.6V207.0M531.4 195.4V207.8" fill="none" stroke="#222" stroke-width="0.8" />
<path d="M545.6 198.6H551.3V210.2Q548.6 210.6 545.6 210.6Z" fill="#fff" stroke="#222" stroke-width="0.9" />
<path d="M552.6 198.2V209.8M554.4 197.8V209.2M556.6 197.2V208.6M558.0 196.8V208.0M560.8 195.6V206.8" fill="none" stroke="#222" stroke-width="0.7" />
<rect x="527.30" y="200.40" width="1.30" height="1.80" fill="#222" stroke="none" stroke-width="0"/>
<path d="M534 209.6Q545 212.0 556 209.4" fill="none" stroke="#222" stroke-width="0.6" />
<path d="M526.2 186.6V189.4A18.7 6.3 0 0 0 563.6 189.4V186.6Z" fill="#fff" stroke="#222" stroke-width="0.9" />
<path d="M526.40 187.60A18.70 6.30 0 0 0 563.80 187.60" fill="none" stroke="#222" stroke-width="0.6" />
<path d="M527.50 191.40A17.60 5.80 0 0 0 562.70 191.40" fill="none" stroke="#222" stroke-width="0.5" />
<path d="M527.6 180.3V184.2A17.5 7.1 0 0 0 562.6 184.2V180.3Z" fill="#1c1c1c" stroke="#222" stroke-width="0.6" />
<path d="M528.4 182.6A16.8 6.8 0 0 0 561.8 182.6" fill="none" stroke="#888" stroke-width="0.4" />
<ellipse cx="545.10" cy="180.30" rx="17.50" ry="7.20" fill="#1c1c1c" stroke="#222" stroke-width="0.7" />
<ellipse cx="545.20" cy="180.50" rx="15.20" ry="5.20" fill="#fff" stroke="#222" stroke-width="0.6" />
<path d="M536.0 184.9Q545.2 183.2 554.4 184.9" fill="none" stroke="#666" stroke-width="0.6" />
<path d="M539.0 185.5H551.0" fill="none" stroke="#999" stroke-width="0.5" />
<path d="M502.45 173.50V171.40Q505.25 169.00 508.05 171.40V173.50Z" fill="#fff" stroke="#222" stroke-width="0.9" />
<ellipse cx="505.25" cy="171.80" rx="1.90" ry="0.80" fill="none" stroke="#222" stroke-width="0.5" />
<rect x="503.55" y="173.50" width="3.40" height="7.20" fill="#222" stroke="none" stroke-width="0"/>
<ellipse cx="505.30" cy="192.40" rx="3.20" ry="1.70" fill="#444" stroke="#222" stroke-width="0.9" />
<path d="M503.4 192.8Q505.3 193.8 507.2 192.8" fill="none" stroke="#ccc" stroke-width="0.5" />
<ellipse cx="505.80" cy="205.30" rx="5.50" ry="3.00" fill="#fff" stroke="#222" stroke-width="1.0" />
<ellipse cx="505.80" cy="204.90" rx="3.40" ry="1.50" fill="#555" stroke="#222" stroke-width="0.8" />
<path d="M503.4 205.4Q505.8 206.4 508.2 205.4" fill="none" stroke="#ddd" stroke-width="0.5" />
<path d="M505.5 209.0V220.5H536.5V215.2" fill="none" stroke="#222" stroke-width="0.75" />
<path d="M505.25 166.2V169.6M505.25 182.5V187.6M505.25 196V201.6" fill="none" stroke="#222" stroke-width="0.75"/>
<path d="M499.3 231.9L497.8 236.4M495.8 245.6L493.5 254.1" fill="none" stroke="#222" stroke-width="0.75" />
<path d="M496.0 236.2L499.6 237.2L498.6 238.8L497.6 242.0L495.6 241.4L496.6 238.2Z" fill="#222" stroke="#222" stroke-width="0.9" />
<path d="M488.25 257.3L513.7 262.1L515.1 260.5L520.6 261.4L521.3 264.2Q554 270.6 585.9 291.7L583.1 304.75Q552 285.0 520.0 279.4L519.6 277.2L513.6 276.2L513.0 274.8L486.9 271.75Z" fill="#fff" stroke="#222" stroke-width="0.75" />
<ellipse cx="490.30" cy="265.30" rx="1.20" ry="0.90" fill="none" stroke="#222" stroke-width="0.55" />
<ellipse cx="582.40" cy="297.50" rx="1.20" ry="0.90" fill="none" stroke="#222" stroke-width="0.55" />
<path d="M494.60 260.90L493.50 271.50M497.75 261.50L496.65 272.10M500.90 262.10L499.80 272.70M504.05 262.70L502.95 273.30M507.20 263.30L506.10 273.90M510.35 263.90L509.25 274.50M523.41 266.63L522.33 278.75M526.56 267.33L525.43 279.38M529.70 268.09L528.52 280.07M532.84 268.92L531.60 280.83M535.98 269.81L534.68 281.66M539.11 270.78L537.76 282.55M542.24 271.81L540.83 283.51M545.37 272.92L543.90 284.54M548.49 274.09L546.96 285.63M551.60 275.33L550.02 286.79M554.72 276.63L553.08 288.01M557.83 278.01L556.13 289.30M560.93 279.45L559.17 290.66M564.03 280.97L562.22 292.08M567.13 282.55L565.26 293.57M570.23 284.20L568.29 295.13M573.32 285.91L571.32 296.75M576.40 287.70L574.35 298.44M579.49 289.55L577.37 300.19" fill="none" stroke="#222" stroke-width="1.1" stroke-dasharray="1.0 1.25" />
<ellipse cx="544.80" cy="338.00" rx="8.10" ry="3.20" fill="#fff" stroke="#222" stroke-width="0.9" />
<path d="M539.4 328.6V336.0A5.7 2.2 0 0 0 550.9 336.0V328.6Z" fill="#fff" stroke="#222" stroke-width="0.8" />
<ellipse cx="545.00" cy="327.90" rx="6.90" ry="3.10" fill="#fff" stroke="#222" stroke-width="1.1" />
<path d="M539.8 329.6A5.4 1.9 0 0 0 550.4 329.6" fill="none" stroke="#777" stroke-width="1.3" />
<path d="M537.3 384.6Q535.4 387.4 536.5 389.6Q538.4 392.8 540.6 393.3A4.4 1.6 0 0 0 549.0 393.3Q551.4 392.8 553.1 389.6Q554.2 387.4 552.3 384.6Z" fill="#fff" stroke="#222" stroke-width="1.25" />
<path d="M536.4 388.0A8.4 3.4 0 0 0 553.2 388.0" fill="none" stroke="#222" stroke-width="1.0" />
<path d="M537.0 389.8A7.8 3.2 0 0 0 552.6 389.8M538.6 391.6A6.2 2.6 0 0 0 551.0 391.6" fill="none" stroke="#222" stroke-width="0.7" />
<path d="M541.0 393.3A3.9 1.4 0 0 0 548.7 393.3" fill="none" stroke="#666" stroke-width="1.2" />
<ellipse cx="544.80" cy="384.60" rx="7.50" ry="3.60" fill="#fff" stroke="#222" stroke-width="1.2" />
<ellipse cx="544.80" cy="384.90" rx="5.20" ry="2.40" fill="#fff" stroke="#222" stroke-width="1.1" />
<path d="M540.2 385.6A4.6 1.8 0 0 0 549.4 385.6" fill="none" stroke="#222" stroke-width="1.4" />
<path d="M540.15 429.0V431.2A5.25 2.2 0 0 0 550.65 431.2V429.0Z" fill="#fff" stroke="#222" stroke-width="0.8" />
<ellipse cx="545.40" cy="429.00" rx="5.25" ry="2.25" fill="#222" stroke="#222" stroke-width="0.8" />
<ellipse cx="545.50" cy="429.20" rx="2.60" ry="0.90" fill="#777" stroke="#222" stroke-width="0.3" />
<path d="M527.0 468.5V471.0A18.95 7.0 0 0 0 564.9 471.0V468.5Z" fill="#fff" stroke="#222" stroke-width="0.8" />
<path d="M527.0 466.7V468.6A18.95 7.2 0 0 0 564.9 468.6V466.7Z" fill="#222" stroke="#222" stroke-width="0.6" />
<ellipse cx="545.90" cy="466.70" rx="18.95" ry="7.30" fill="#fff" stroke="#222" stroke-width="0.85" />
<ellipse cx="545.90" cy="466.20" rx="17.40" ry="6.30" fill="#fff" stroke="#222" stroke-width="0.6" />
<ellipse cx="545.75" cy="466.50" rx="5.25" ry="2.25" fill="#fff" stroke="#222" stroke-width="0.8" />
<ellipse cx="548.40" cy="461.10" rx="1.20" ry="0.70" fill="#333" stroke="#222" stroke-width="0.4" />
<ellipse cx="533.40" cy="468.00" rx="1.60" ry="0.90" fill="#ccc" stroke="#222" stroke-width="0.6" />
<ellipse cx="559.25" cy="465.40" rx="2.50" ry="1.40" fill="#fff" stroke="#222" stroke-width="0.7" />
<ellipse cx="554.00" cy="470.30" rx="1.30" ry="0.70" fill="#333" stroke="#222" stroke-width="0.4" />
<path d="M531.2 499.0V497.0Q533.7 495.2 536.2 497.0V499.0Z" fill="#222" stroke="#222" stroke-width="0.6" />
<rect x="532.20" y="499.00" width="3.00" height="3.50" fill="#222" stroke="none" stroke-width="0"/>
<path d="M532.4 497.2H535" fill="none" stroke="#ccc" stroke-width="0.4" />
<ellipse cx="533.75" cy="514.50" rx="2.70" ry="1.50" fill="#444" stroke="#222" stroke-width="0.7" />
<path d="M532.4 514.6H535.2" fill="none" stroke="#ddd" stroke-width="0.45" />
<path d="M533.7 484V494.5M533.7 504.5V511.5M533.7 519.5V533" fill="none" stroke="#222" stroke-width="0.75"/>
<path d="M527.5 537.8V555.2A17.5 6.4 0 0 0 562.5 555.2V537.8Z" fill="#fff" stroke="#222" stroke-width="0.85" />
<path d="M527.5 550.6A17.5 6.4 0 0 0 562.5 550.6V555.2A17.5 6.4 0 0 1 527.5 555.2Z" fill="#2b2b2b" stroke="#222" stroke-width="0.5" />
<path d="M528.0 552.8A17.0 6.3 0 0 0 562.0 552.8" fill="none" stroke="#aaa" stroke-width="0.45" />
<path d="M528.0 554.2A17.0 6.3 0 0 0 562.0 554.2" fill="none" stroke="#888" stroke-width="0.4" />
<path d="M528.0 543.0Q531 546.4 537.4 548.2V553.6Q531 551.6 528.0 548.6Z" fill="#444" stroke="#222" stroke-width="0.5" />
<path d="M562.0 543.0Q559 546.4 552.6 548.2V553.6Q559 551.6 562.0 548.6Z" fill="#444" stroke="#222" stroke-width="0.5" />
<path d="M529.4 547.0L532.4 550.6" fill="none" stroke="#eee" stroke-width="0.9" />
<path d="M558.6 550.4L560.8 547.2" fill="none" stroke="#ccc" stroke-width="0.7" />
<path d="M536.4 552.4Q545.3 555.0 554.8 552.4V555.6Q545.3 558.4 536.4 555.6Z" fill="#fff" stroke="#222" stroke-width="0.7" />
<path d="M538.6 548.0V551.6Q545.4 554.0 552.8 551.6V548.0Z" fill="#fff" stroke="#222" stroke-width="0.75" />
<ellipse cx="545.70" cy="548.00" rx="7.10" ry="2.70" fill="#fff" stroke="#222" stroke-width="0.85" />
<ellipse cx="545.20" cy="549.20" rx="3.40" ry="1.60" fill="#fff" stroke="#222" stroke-width="1.25" />
<ellipse cx="545.20" cy="549.50" rx="1.50" ry="0.80" fill="#e6e6e6" stroke="#222" stroke-width="0.5" />
<path d="M527.5 537.7V539.2A17.5 7.2 0 0 0 562.5 539.2V537.7Z" fill="#fff" stroke="#222" stroke-width="0.8" />
<path d="M527.7 539.9A17.3 7.1 0 0 0 562.3 539.9" fill="none" stroke="#222" stroke-width="1.0" />
<ellipse cx="545.00" cy="537.70" rx="17.50" ry="7.20" fill="#fff" stroke="#222" stroke-width="0.9" />
<ellipse cx="545.00" cy="537.40" rx="16.00" ry="6.20" fill="#fff" stroke="#222" stroke-width="0.5" />
<ellipse cx="545.00" cy="538.00" rx="5.80" ry="3.20" fill="#5a5a5a" stroke="#222" stroke-width="0.95" />
<path d="M541.4 536.6L545 538.4L548.8 536.6M541.0 539.4L545 538.4L549.0 539.6" fill="none" stroke="#2a2a2a" stroke-width="0.6" />
<ellipse cx="534.10" cy="539.70" rx="2.60" ry="1.50" fill="#fff" stroke="#222" stroke-width="0.8" />
<path d="M532.2 540.0Q534.1 541.0 536.0 540.0" fill="none" stroke="#222" stroke-width="0.5" />
<ellipse cx="535.80" cy="534.50" rx="1.00" ry="0.70" fill="#3a3a3a" stroke="#222" stroke-width="0.3" />
<ellipse cx="553.30" cy="533.90" rx="1.00" ry="0.70" fill="#3a3a3a" stroke="#222" stroke-width="0.3" />
<ellipse cx="536.10" cy="544.20" rx="1.00" ry="0.70" fill="#3a3a3a" stroke="#222" stroke-width="0.3" />
<ellipse cx="554.80" cy="544.20" rx="1.00" ry="0.70" fill="#3a3a3a" stroke="#222" stroke-width="0.3" />
<path d="M545.1 565.5V706.6H499.5V683.6" fill="none" stroke="#3a3a3a" stroke-width="0.7" />
<path d="M493.2 566.6V569.6" fill="none" stroke="#888" stroke-width="0.5" />
<path d="M491.0 572.6V570.6Q493 569.0 495.0 570.6V572.6Z" fill="#222" stroke="#222" stroke-width="0.5" />
<rect x="492.10" y="572.60" width="2.30" height="3.10" fill="#222" stroke="none" stroke-width="0"/>
<path d="M493.2 576.8V588M493.2 595.9V598.9" fill="none" stroke="#222" stroke-width="0.75"/>
<path d="M498.25 580.9V587.6M498.25 594.8V606.8" fill="none" stroke="#222" stroke-width="0.6"/>
<ellipse cx="498.10" cy="591.60" rx="7.70" ry="2.50" fill="#333" stroke="#222" stroke-width="0.7" />
<ellipse cx="498.30" cy="591.70" rx="3.10" ry="1.10" fill="#fff" stroke="#222" stroke-width="0.5" />
<ellipse cx="493.40" cy="591.60" rx="0.90" ry="0.60" fill="#ccc" stroke="#222" stroke-width="0.2" />
<ellipse cx="503.20" cy="591.60" rx="0.90" ry="0.60" fill="#ccc" stroke="#222" stroke-width="0.2" />
<path d="M512.9 582.9Q510.8 586.0 511.0 590.0V596.5Q510.8 603.6 504.0 606.0Q498.6 608.0 497.6 613.0L497.2 617.2" fill="none" stroke="#222" stroke-width="2.6" />
<path d="M512.9 582.9Q510.8 586.0 511.0 590.0V596.5Q510.8 603.6 504.0 606.0Q498.6 608.0 497.6 613.0L497.2 617.2" fill="none" stroke="#fff" stroke-width="1.2" />
<path d="M512.0 582.4L513.8 583.4" fill="none" stroke="#222" stroke-width="1.6" />
<rect x="496.10" y="617.00" width="3.80" height="1.40" fill="#222" stroke="none" stroke-width="0"/>
<path d="M496.4 618.4L495.6 624.0H500.6L499.8 618.4Z" fill="#fff" stroke="#222" stroke-width="0.7" />
<ellipse cx="498.10" cy="625.20" rx="5.20" ry="1.90" fill="#222" stroke="#222" stroke-width="0.6" />
<path d="M495.6 624.2Q498.1 625.4 500.6 624.2" fill="none" stroke="#fff" stroke-width="0.6" />
<path d="M496.4 627.0V630.4Q498.2 631.2 500.1 630.4V627.0Z" fill="#fff" stroke="#222" stroke-width="0.75" />
<path d="M498.1 633V650.3" fill="none" stroke="#222" stroke-width="0.75"/>
<ellipse cx="498.80" cy="653.00" rx="1.90" ry="1.00" fill="#222" stroke="#222" stroke-width="0.5" />
<path d="M498.6 654.6V660M498.6 674.6V679.5" fill="none" stroke="#222" stroke-width="0.75"/>
<path d="M498.7 660.4L496.9 664.4H500.9L499.2 660.4Z" fill="#222" stroke="#222" stroke-width="0.6" />
<ellipse cx="498.85" cy="665.60" rx="4.30" ry="1.60" fill="#222" stroke="#222" stroke-width="0.6" />
<path d="M496.6 664.8Q498.8 665.8 501.0 664.8" fill="none" stroke="#fff" stroke-width="0.5" />
<rect x="497.30" y="667.00" width="3.00" height="7.40" fill="#555" stroke="none" stroke-width="0"/>
<path d="M497.3 668.4H500.3M497.3 669.8H500.3M497.3 671.2H500.3M497.3 672.6H500.3" fill="none" stroke="#ddd" stroke-width="0.4" />
<ellipse cx="499.00" cy="681.50" rx="4.35" ry="1.80" fill="#222" stroke="#222" stroke-width="0.6" />
<ellipse cx="499.20" cy="681.60" rx="1.90" ry="0.70" fill="#fff" stroke="#222" stroke-width="0.3" />
<path d="M495.8 688.2L497.4 688.0L497.6 691.8L495.4 692.2Z" fill="#222" stroke="#222" stroke-width="0.5" />
<ellipse cx="545.75" cy="740.80" rx="16.40" ry="6.20" fill="none" stroke="#222" stroke-width="1.5" />
<path d="M545.2 73.8V82.4M545.2 94V103.4M545.2 126.3V135.6M545.2 157.4V167.9M545.2 219.6V263.5M545.2 295V311.6M545.2 355V376.2M545.2 397.4V424.8M545.2 435V456.8" fill="none" stroke="#222" stroke-width="0.75"/>
<path d="M645.0 108.0V116.4A14.75 4.6 0 0 0 674.4 116.4V108.0Z" fill="#fff" stroke="#222" stroke-width="0.8" />
<path d="M645.6 114.6A14.2 4.4 0 0 0 673.8 114.6" fill="none" stroke="#222" stroke-width="0.55" />
<path d="M643.2 72.5V106.0A16.5 5.3 0 0 0 676.2 106.0V72.5A16.5 5.3 0 0 0 643.2 72.5Z" fill="#fff" stroke="#222" stroke-width="0.85" />
<path d="M644.0 107.6A15.8 5.0 0 0 0 675.4 107.6" fill="none" stroke="#222" stroke-width="0.5" />
<path d="M643.2 72.5A16.5 5.5 0 0 0 676.2 72.5" fill="none" stroke="#222" stroke-width="0.8" />
<path d="M645.2 73.6A14.5 4.4 0 0 0 674.2 73.6" fill="none" stroke="#222" stroke-width="0.5" />
<path d="M644.8 62.5V66.0Q645 68.6 647.4 71.6A12.3 3.6 0 0 0 672.0 71.6Q674.6 68.6 674.8 66.0V62.5Z" fill="#fff" stroke="#222" stroke-width="0.85" />
<path d="M644.8 66.0A15 5.6 0 0 0 674.8 66.0" fill="none" stroke="#222" stroke-width="0.75" />
<ellipse cx="659.80" cy="62.50" rx="15.00" ry="6.00" fill="#fff" stroke="#222" stroke-width="0.9" />
<ellipse cx="659.80" cy="62.30" rx="13.20" ry="4.90" fill="#fff" stroke="#222" stroke-width="0.6" />
<ellipse cx="659.80" cy="62.20" rx="9.30" ry="3.30" fill="#fff" stroke="#222" stroke-width="0.8" />
<path d="M643.35 158V266.8A16.15 5.2 0 0 0 675.65 266.8V158Z" fill="#fff" stroke="#222" stroke-width="0.75" />
<path d="M643.35 219.40A16.15 4.60 0 0 0 675.65 219.40V223.90A16.15 4.60 0 0 1 643.35 223.90Z" fill="#ddd" stroke="#222" stroke-width="0.3" />
<path d="M643.35 219.40A16.15 4.60 0 0 0 675.65 219.40" fill="none" stroke="#222" stroke-width="1.15" />
<path d="M643.35 221.60A16.15 4.60 0 0 0 675.65 221.60" fill="none" stroke="#555" stroke-width="0.6" />
<path d="M643.35 223.90A16.15 4.60 0 0 0 675.65 223.90" fill="none" stroke="#222" stroke-width="0.8" />
<path d="M643.35 242.25A16.15 4.60 0 0 0 675.65 242.25V246.75A16.15 4.60 0 0 1 643.35 246.75Z" fill="#ddd" stroke="#222" stroke-width="0.3" />
<path d="M643.35 242.25A16.15 4.60 0 0 0 675.65 242.25" fill="none" stroke="#222" stroke-width="1.15" />
<path d="M643.35 244.45A16.15 4.60 0 0 0 675.65 244.45" fill="none" stroke="#555" stroke-width="0.6" />
<path d="M643.35 246.75A16.15 4.60 0 0 0 675.65 246.75" fill="none" stroke="#222" stroke-width="0.8" />
<path d="M643.35 261.00A16.15 4.60 0 0 0 675.65 261.00V265.50A16.15 4.60 0 0 1 643.35 265.50Z" fill="#ddd" stroke="#222" stroke-width="0.3" />
<path d="M643.35 261.00A16.15 4.60 0 0 0 675.65 261.00" fill="none" stroke="#222" stroke-width="1.15" />
<path d="M643.35 263.20A16.15 4.60 0 0 0 675.65 263.20" fill="none" stroke="#555" stroke-width="0.6" />
<path d="M643.35 265.50A16.15 4.60 0 0 0 675.65 265.50" fill="none" stroke="#222" stroke-width="0.8" />
<path d="M642.5 152.5V158.2A17 6.9 0 0 0 676.5 158.2V152.5Z" fill="#fff" stroke="#222" stroke-width="0.85" />
<ellipse cx="659.50" cy="152.50" rx="17.00" ry="6.90" fill="#fff" stroke="#222" stroke-width="0.9" />
<path d="M644.4 155.6A15.2 5.0 0 0 1 674.6 155.6A15.2 5.4 0 0 1 644.4 155.6Z" fill="#fff" stroke="#222" stroke-width="0.8" />
<ellipse cx="647.70" cy="151.00" rx="1.20" ry="1.70" fill="#fff" stroke="#222" stroke-width="0.65" />
<ellipse cx="671.10" cy="151.00" rx="1.20" ry="1.70" fill="#fff" stroke="#222" stroke-width="0.65" />
<ellipse cx="647.70" cy="159.20" rx="1.20" ry="1.70" fill="#fff" stroke="#222" stroke-width="0.65" />
<ellipse cx="671.10" cy="159.20" rx="1.20" ry="1.70" fill="#fff" stroke="#222" stroke-width="0.65" />
<path d="M676.0 149.8L720.6 131.9" fill="none" stroke="#222" stroke-width="0.7" />
<circle cx="693.6" cy="142.6" r="2.1" fill="#444" stroke="#222" stroke-width="1.2"/>
<circle cx="693.9" cy="142.8" r="0.7" fill="#bbb"/>
<path d="M712.2 133.4L714.2 132.4L716.6 136.6L714.6 137.8Z" fill="#222" stroke="#222" stroke-width="0.6" />
<path d="M711.6 135.4L713.6 134.4" fill="none" stroke="#222" stroke-width="1.3" />
<path d="M653.0 306.4V313.4A6.9 2.9 0 0 0 667.0 313.4V306.4Z" fill="#222" stroke="#222" stroke-width="0.7" />
<path d="M653.4 309.0A6.6 2.8 0 0 0 666.6 309.0M653.4 311.2A6.6 2.8 0 0 0 666.6 311.2" fill="none" stroke="#bbb" stroke-width="0.45" />
<path d="M653.6 303.7V306.6A6.4 2.8 0 0 0 666.4 306.6V303.7Z" fill="#fff" stroke="#222" stroke-width="0.8" />
<ellipse cx="660.00" cy="303.70" rx="6.40" ry="2.80" fill="#fff" stroke="#222" stroke-width="0.9" />
<ellipse cx="660.20" cy="303.80" rx="4.20" ry="1.70" fill="#fff" stroke="#222" stroke-width="1.0" />
<ellipse cx="660.20" cy="304.00" rx="2.00" ry="0.80" fill="#ccc" stroke="#222" stroke-width="0.4" />
<rect x="651.00" y="305.80" width="2.00" height="1.90" fill="#111" stroke="none" stroke-width="0"/>
<path d="M652.5 343.3V347.2A8.25 3.2 0 0 0 669.0 347.2V343.3Z" fill="#fff" stroke="#222" stroke-width="0.85" />
<ellipse cx="660.75" cy="343.30" rx="8.25" ry="3.20" fill="#222" stroke="#222" stroke-width="0.85" />
<ellipse cx="660.75" cy="343.40" rx="4.95" ry="1.54" fill="#888" stroke="#222" stroke-width="0.4" />
<path d="M656.62 343.10H664.88" fill="none" stroke="#eee" stroke-width="0.5" stroke-dasharray="0.9 0.6"/>
<path d="M656.5 461V478.5H657.2V482.2Q660.2 483.2 663.0 482.2V478.5H663.8V461Z" fill="#fff" stroke="#222" stroke-width="0.8" />
<path d="M657.2 478.5H663.0" fill="none" stroke="#222" stroke-width="0.6" />
<path d="M651.0 425.2V458.2Q651.4 461.4 656.0 462.2H664.2Q668.6 461.4 669.0 458.2V425.2Z" fill="#fff" stroke="#222" stroke-width="0.85" />
<path d="M652.4 460.0Q660 462.4 667.6 460.0" fill="none" stroke="#222" stroke-width="0.5" />
<ellipse cx="660.00" cy="425.20" rx="9.00" ry="3.60" fill="#fff" stroke="#222" stroke-width="0.9" />
<ellipse cx="660.00" cy="425.20" rx="7.40" ry="2.70" fill="#fff" stroke="#222" stroke-width="0.55" />
<path d="M656.5 426.0V403.5H657.0V378.0H657.5V374.8Q660.2 373.4 663.0 374.8V378.0H663.5V403.5H664.0V426.0A3.7 1.3 0 0 1 656.5 426.0Z" fill="#fff" stroke="#222" stroke-width="0.8" />
<path d="M657.5 378.0H663.0M657.0 383.0H663.5M657.0 399.5H663.5M656.5 403.5H664.0" fill="none" stroke="#222" stroke-width="0.6" />
<path d="M657.9 376V402M662.6 376V402" fill="none" stroke="#999" stroke-width="0.35" />
<path d="M653.0 505.25V508.65A7.0 2.75 0 0 0 667.0 508.65V505.25Z" fill="#fff" stroke="#222" stroke-width="0.85" />
<ellipse cx="660.00" cy="505.25" rx="7.00" ry="2.75" fill="#222" stroke="#222" stroke-width="0.85" />
<ellipse cx="660.00" cy="505.35" rx="4.20" ry="1.32" fill="#888" stroke="#222" stroke-width="0.4" />
<path d="M656.50 505.05H663.50" fill="none" stroke="#eee" stroke-width="0.5" stroke-dasharray="0.9 0.6"/>
<path d="M644.8 552V557.0A14.6 4.6 0 0 0 674.0 557.0V552Z" fill="#fff" stroke="#222" stroke-width="0.8" />
<path d="M643.2 533V552.0A16.15 5.0 0 0 0 675.5 552.0V533Z" fill="#fff" stroke="#222" stroke-width="0.85" />
<path d="M644.0 553.4A15.4 4.8 0 0 0 674.8 553.4" fill="none" stroke="#222" stroke-width="0.5" />
<path d="M669.5 537.6V555.0M672.0 536.6V553.8" fill="none" stroke="#222" stroke-width="0.55" />
<path d="M670.3 537.4V554.6" fill="none" stroke="#888" stroke-width="0.35" />
<ellipse cx="659.35" cy="533.00" rx="16.15" ry="5.50" fill="#fff" stroke="#222" stroke-width="1.25" />
<path d="M653.0 588.6L665.0 587.4Q670.8 588.4 672.0 594.6Q672.4 600.6 669.0 602.6L655.0 606.6Z" fill="#fff" stroke="#222" stroke-width="0.8" />
<path d="M650.6 593.4L652.8 590.0L661.0 588.0L664.4 588.6L663.0 590.6L655.8 592.4Z" fill="#ddd" stroke="#222" stroke-width="0.6" />
<path d="M652.6 590.4L654.6 594.8M656.6 589.4L655.6 592.2M660.4 588.2L662.6 590.2" fill="none" stroke="#222" stroke-width="0.9" />
<ellipse cx="654.00" cy="600.00" rx="4.70" ry="6.70" fill="#fff" stroke="#222" stroke-width="0.85" transform="rotate(-8 654 600)"/>
<path d="M650.4 596.4Q652 593.2 654.6 593.4L655.4 596.6L653.4 598.0" fill="none" stroke="#222" stroke-width="0.7" />
<path d="M652.0 594.0L653.2 598.4" fill="none" stroke="#222" stroke-width="0.9" />
<path d="M644.0 648.5V657.0A16 6.0 0 0 0 676.0 657.0V648.5Z" fill="#fff" stroke="#222" stroke-width="0.85" />
<path d="M644.00 652.60A16.00 6.00 0 0 0 676.00 652.60" fill="none" stroke="#222" stroke-width="0.6" />
<path d="M644.00 654.60A16.00 6.00 0 0 0 676.00 654.60" fill="none" stroke="#222" stroke-width="0.6" />
<path d="M645.4 656.4A14.6 5.4 0 0 0 674.6 656.4" fill="none" stroke="#777" stroke-width="1.0" />
<path d="M645.4 647V649.6A14.6 5.6 0 0 0 674.6 649.6V647Z" fill="#fff" stroke="#222" stroke-width="0.8" />
<path d="M646.9 637.5V649.0A13.1 5.5 0 0 0 673.1 649.0V637.5Z" fill="#fff" stroke="#222" stroke-width="0.85" />
<ellipse cx="660.00" cy="637.50" rx="13.10" ry="5.50" fill="#fff" stroke="#222" stroke-width="0.9" />
<ellipse cx="659.80" cy="637.50" rx="10.30" ry="4.00" fill="#fff" stroke="#222" stroke-width="0.75" />
<path d="M645.8 694V698.0A14.4 5.8 0 0 0 674.6 698.0V694Z" fill="#fff" stroke="#222" stroke-width="0.8" />
<path d="M645.8 697.6A14.4 5.9 0 0 0 674.6 697.6" fill="none" stroke="#222" stroke-width="1.5" />
<ellipse cx="660.20" cy="694.00" rx="14.40" ry="5.80" fill="#fff" stroke="#222" stroke-width="0.85" />
<ellipse cx="660.20" cy="694.20" rx="13.20" ry="4.90" fill="#fff" stroke="#222" stroke-width="0.45" />
<ellipse cx="652.50" cy="694.20" rx="1.40" ry="0.80" fill="#333" stroke="#222" stroke-width="0.4" />
<ellipse cx="664.50" cy="693.30" rx="1.40" ry="0.80" fill="#333" stroke="#222" stroke-width="0.4" />
<ellipse cx="659.50" cy="696.50" rx="1.30" ry="0.80" fill="#999" stroke="#222" stroke-width="0.4" />
<path d="M650.4 695.6Q652 696.8 654.4 696.6" fill="none" stroke="#222" stroke-width="0.45" />
<path d="M653.78 736.07A16.5 6.1 0 1 1 645.15 739.61" fill="none" stroke="#222" stroke-width="1.7" />
<path d="M653.78 736.07A16.5 6.1 0 1 1 645.15 739.61" fill="none" stroke="#bbb" stroke-width="0.35" />
<path d="M653.78 736.37L659.6 738.9" fill="none" stroke="#222" stroke-width="1.5" />
<path d="M645.15 739.61Q647.0 738.6 649.4 739.4L653.0 741.4" fill="none" stroke="#222" stroke-width="1.1" />
<path d="M660.3 125.8V143.8M660.3 276V298M660.3 319V336.4M660.3 352V371M660.3 488V498M660.3 513V524.5M660.3 565.5V583.5M660.3 610V627.5M660.3 666.5V676.6M660.3 709V728.3" fill="none" stroke="#222" stroke-width="0.75"/>
</g>
<g id="labels" font-family="'Liberation Serif', serif" font-size="18.4" fill="#1a1a1a" stroke="#1a1a1a" stroke-width="0.3">
<text transform="translate(275.35,27.75) scale(0.632,1)" text-anchor="middle">1</text>
<text transform="translate(275.35,57.00) scale(0.632,1)" text-anchor="middle">2</text>
<text transform="translate(275.35,88.25) scale(0.632,1)" text-anchor="middle">3</text>
<text transform="translate(275.35,113.50) scale(0.632,1)" text-anchor="middle">4</text>
<text transform="translate(275.35,168.25) scale(0.632,1)" text-anchor="middle">5</text>
<text transform="translate(275.35,240.75) scale(0.632,1)" text-anchor="middle">6</text>
<text transform="translate(275.35,288.50) scale(0.632,1)" text-anchor="middle">7</text>
<text transform="translate(275.35,318.50) scale(0.632,1)" text-anchor="middle">8</text>
<text transform="translate(275.35,343.25) scale(0.632,1)" text-anchor="middle">9</text>
<text transform="translate(275.35,372.25) scale(0.632,1)" text-anchor="middle">10</text>
<text transform="translate(275.35,400.75) scale(0.632,1)" text-anchor="middle">11</text>
<text transform="translate(275.35,431.50) scale(0.632,1)" text-anchor="middle">12</text>
<text transform="translate(275.35,460.75) scale(0.632,1)" text-anchor="middle">13</text>
<text transform="translate(275.35,494.00) scale(0.632,1)" text-anchor="middle">14</text>
<text transform="translate(275.35,523.25) scale(0.632,1)" text-anchor="middle">15</text>
<text transform="translate(275.35,549.00) scale(0.632,1)" text-anchor="middle">16</text>
<text transform="translate(275.35,575.25) scale(0.632,1)" text-anchor="middle">17</text>
<text transform="translate(275.35,670.25) scale(0.632,1)" text-anchor="middle">18</text>
<text transform="translate(458.15,34.95) scale(0.632,1)" text-anchor="middle">19</text>
<text transform="translate(458.15,54.95) scale(0.632,1)" text-anchor="middle">20</text>
<text transform="translate(458.15,75.70) scale(0.632,1)" text-anchor="middle">21</text>
<text transform="translate(458.15,95.70) scale(0.632,1)" text-anchor="middle">22</text>
<text transform="translate(458.15,115.70) scale(0.632,1)" text-anchor="middle">23</text>
<text transform="translate(458.15,134.20) scale(0.632,1)" text-anchor="middle">24</text>
<text transform="translate(458.15,156.20) scale(0.632,1)" text-anchor="middle">25</text>
<text transform="translate(458.15,176.50) scale(0.632,1)" text-anchor="middle">26</text>
<text transform="translate(458.15,196.95) scale(0.632,1)" text-anchor="middle">27</text>
<text transform="translate(458.15,221.20) scale(0.632,1)" text-anchor="middle">28</text>
<text transform="translate(458.15,254.20) scale(0.632,1)" text-anchor="middle">29</text>
<text transform="translate(458.15,306.20) scale(0.632,1)" text-anchor="middle">30</text>
<text transform="translate(458.15,357.45) scale(0.632,1)" text-anchor="middle">31</text>
<text transform="translate(458.15,399.45) scale(0.632,1)" text-anchor="middle">32</text>
<text transform="translate(458.15,435.70) scale(0.632,1)" text-anchor="middle">33</text>
<text transform="translate(458.15,462.45) scale(0.632,1)" text-anchor="middle">34</text>
<text transform="translate(458.15,486.95) scale(0.632,1)" text-anchor="middle">35</text>
<text transform="translate(458.15,514.95) scale(0.632,1)" text-anchor="middle">36</text>
<text transform="translate(458.15,550.45) scale(0.632,1)" text-anchor="middle">37</text>
<text transform="translate(458.15,576.95) scale(0.632,1)" text-anchor="middle">38</text>
<text transform="translate(458.15,609.95) scale(0.632,1)" text-anchor="middle">39</text>
<text transform="translate(458.15,633.20) scale(0.632,1)" text-anchor="middle">40</text>
<text transform="translate(458.15,653.20) scale(0.632,1)" text-anchor="middle">41</text>
<text transform="translate(458.15,674.45) scale(0.632,1)" text-anchor="middle">42</text>
<text transform="translate(458.30,711.20) scale(0.632,1)" text-anchor="middle">43</text>
<text transform="translate(458.30,762.00) scale(0.632,1)" text-anchor="middle">44</text>
<text transform="translate(608.38,99.20) scale(0.632,1)" text-anchor="middle">45</text>
<text transform="translate(608.38,187.45) scale(0.632,1)" text-anchor="middle">46</text>
<text transform="translate(608.38,303.70) scale(0.632,1)" text-anchor="middle">47</text>
<text transform="translate(608.38,349.95) scale(0.632,1)" text-anchor="middle">48</text>
<text transform="translate(608.38,407.45) scale(0.632,1)" text-anchor="middle">49</text>
<text transform="translate(608.38,511.70) scale(0.632,1)" text-anchor="middle">50</text>
<text transform="translate(608.38,550.70) scale(0.632,1)" text-anchor="middle">51</text>
<text transform="translate(608.38,606.20) scale(0.632,1)" text-anchor="middle">52</text>
<text transform="translate(608.38,654.45) scale(0.632,1)" text-anchor="middle">53</text>
<text transform="translate(608.38,707.45) scale(0.632,1)" text-anchor="middle">54</text>
<text transform="translate(608.38,757.70) scale(0.632,1)" text-anchor="middle">55</text>
<text transform="translate(744.38,145.45) scale(0.632,1)" text-anchor="middle">56</text>
<text transform="translate(744.38,173.20) scale(0.632,1)" text-anchor="middle">57</text>
</g>
<g id="leaders" fill="none" stroke="#222" stroke-width="0.75">
<path d="M263.4 31.55H287.3L389 66"/>
<path d="M263.4 60.8H287.3L389 100"/>
<path d="M263.4 92.05H287.3L402 137"/>
<path d="M263.4 117.3H287.3L338 136.5"/>
<path d="M263.4 172.05H287.3L357 202.5"/>
<path d="M263.4 244.55H287.3L390.75 280"/>
<path d="M263.4 292.3H287.3L387 322.5"/>
<path d="M263.4 322.3H287.3L399 359.5"/>
<path d="M263.4 347.05H287.3L398.75 381.75"/>
<path d="M263.4 376.05H287.3L398.75 401.25"/>
<path d="M263.4 404.55H287.3L399.25 429.25"/>
<path d="M263.4 435.3H287.3L400 463.75"/>
<path d="M263.4 464.55H287.3L394.5 494.5"/>
<path d="M263.4 497.8H287.3L380.5 521.25"/>
<path d="M263.4 527.05H287.3L381.25 548.75"/>
<path d="M263.4 552.8H287.3L381.25 579.5"/>
<path d="M263.4 579.05H287.3L383.75 611.75"/>
<path d="M263.4 674.05H287.3L391.25 719.5"/>
<path d="M445.9 38.75H470.4L535 69.5"/>
<path d="M445.9 58.75H470.4L538 89.5"/>
<path d="M445.9 79.5H470.4L526.25 109.25"/>
<path d="M445.9 99.5H470.4L537.5 120"/>
<path d="M445.9 119.5H470.4L525 148.75"/>
<path d="M445.9 138H470.4L532.5 175"/>
<path d="M445.9 160H470.4L498.75 172.5"/>
<path d="M445.9 180.3H470.4L500 193"/>
<path d="M445.9 200.75H470.4L497.5 205.5"/>
<path d="M445.9 225H470.4L493.25 239.5"/>
<path d="M445.9 258H470.4L486.25 267"/>
<path d="M445.9 310H470.4L533.75 335"/>
<path d="M445.9 361.25H470.4L530 388.75"/>
<path d="M445.9 403.25H470.4L533.75 428.25"/>
<path d="M445.9 439.5H470.4L521.25 466.25"/>
<path d="M445.9 466.25H470.4L526.75 499.5"/>
<path d="M445.9 490.75H470.4L526.25 514.25"/>
<path d="M445.9 518.75H470.4L522 545"/>
<path d="M445.9 554.25H470.4L491.25 568.75"/>
<path d="M445.9 580.75H470.4L487.5 591.25"/>
<path d="M445.9 613.75H470.4L490.75 622.5"/>
<path d="M445.9 637H470.4L493.75 652"/>
<path d="M445.9 657H470.4L493.75 669.5"/>
<path d="M445.9 678.25H470.4L493.75 682.5"/>
<path d="M445.6 715H471L494 692"/>
<path d="M445.6 765.8H471L529.5 745.5"/>
<path d="M596.25 103H620.5L638.25 85.5"/>
<path d="M596.25 191.25H620.5L647.5 181.75"/>
<path d="M596.25 307.5H620.5L652.5 307.5"/>
<path d="M596.25 353.75H620.5L645.75 345.75"/>
<path d="M596.25 411.25H620.5L650 399.25"/>
<path d="M596.25 515.5H620.5L648 506.75"/>
<path d="M596.25 554.5H620.5L633.25 547.5"/>
<path d="M596.25 610H620.5L642.5 599.25"/>
<path d="M596.25 658.25H620.5L641.25 648.25"/>
<path d="M596.25 711.25H620.5L640.5 699.5"/>
<path d="M596.25 761.5H620.5L640.25 746.6"/>
<path d="M756.25 149.25H732.5L713.75 135"/>
<path d="M756.25 177H732.5L695 147.5"/>
</g>
<g id="dots" fill="#222">
<circle cx="338" cy="136.5" r="1.25"/>
<circle cx="357" cy="202.5" r="1.25"/>
<circle cx="390.75" cy="280" r="1.25"/>
<circle cx="387" cy="322.5" r="1.25"/>
<circle cx="399" cy="359.5" r="1.25"/>
<circle cx="398.75" cy="381.75" r="1.25"/>
<circle cx="398.75" cy="401.25" r="1.25"/>
<circle cx="394.5" cy="494.5" r="1.25"/>
<circle cx="380.5" cy="521.25" r="1.25"/>
<circle cx="381.25" cy="548.75" r="1.25"/>
<circle cx="381.25" cy="579.5" r="1.25"/>
<circle cx="383.75" cy="611.75" r="1.25"/>
<circle cx="391.25" cy="719.5" r="1.25"/>
<circle cx="535" cy="69.5" r="1.25"/>
<circle cx="538" cy="89.5" r="1.25"/>
<circle cx="526.25" cy="109.25" r="1.25"/>
<circle cx="537.5" cy="120" r="1.25"/>
<circle cx="525" cy="148.75" r="1.25"/>
<circle cx="498.75" cy="172.5" r="1.25"/>
<circle cx="500" cy="193" r="1.25"/>
<circle cx="497.5" cy="205.5" r="1.25"/>
<circle cx="493.25" cy="239.5" r="1.25"/>
<circle cx="486.25" cy="267" r="1.25"/>
<circle cx="533.75" cy="335" r="1.25"/>
<circle cx="530" cy="388.75" r="1.25"/>
<circle cx="533.75" cy="428.25" r="1.25"/>
<circle cx="521.25" cy="466.25" r="1.25"/>
<circle cx="526.75" cy="499.5" r="1.25"/>
<circle cx="526.25" cy="514.25" r="1.25"/>
<circle cx="522" cy="545" r="1.25"/>
<circle cx="491.25" cy="568.75" r="1.25"/>
<circle cx="487.5" cy="591.25" r="1.25"/>
<circle cx="490.75" cy="622.5" r="1.25"/>
<circle cx="493.75" cy="652" r="1.25"/>
<circle cx="493.75" cy="669.5" r="1.25"/>
<circle cx="493.75" cy="682.5" r="1.25"/>
<circle cx="494" cy="692" r="1.25"/>
<circle cx="529.5" cy="745.5" r="1.25"/>
<circle cx="638.25" cy="85.5" r="1.25"/>
<circle cx="647.5" cy="181.75" r="1.25"/>
<circle cx="645.75" cy="345.75" r="1.25"/>
<circle cx="650" cy="399.25" r="1.25"/>
<circle cx="648" cy="506.75" r="1.25"/>
<circle cx="633.25" cy="547.5" r="1.25"/>
<circle cx="642.5" cy="599.25" r="1.25"/>
<circle cx="641.25" cy="648.25" r="1.25"/>
<circle cx="640.5" cy="699.5" r="1.25"/>
<circle cx="640.25" cy="746.6" r="1.25"/>
<circle cx="695" cy="147.5" r="1.25"/>
</g>
</svg></body></html>
